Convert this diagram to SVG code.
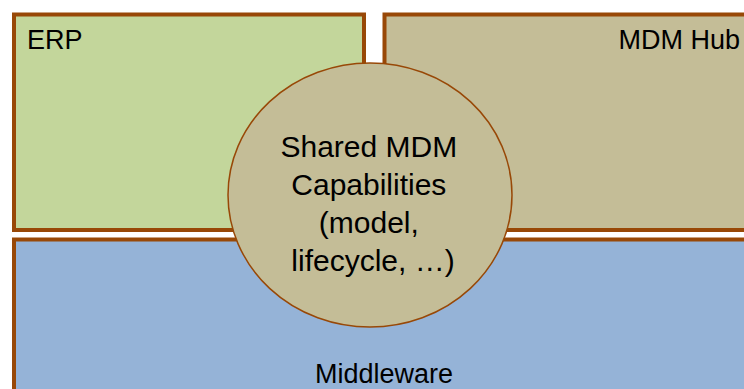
<svg xmlns="http://www.w3.org/2000/svg" width="744" height="389" viewBox="0 0 744 389">
<style>
.box{stroke:#984807;stroke-width:4}
.t{font-family:"Liberation Sans",Arial,sans-serif;font-size:27px;fill:#000}
</style>
<rect width="744" height="389" fill="#fff"/>
<g id="erp">
<rect class="box" x="14" y="14.5" width="350" height="215.5" fill="#C3D69B"/>
<text class="t" x="27" y="49">ERP</text>
</g>
<g id="mdmhub">
<rect class="box" x="384.5" y="14.5" width="380" height="215.5" fill="#C4BD97"/>
<text class="t" x="740" y="49" text-anchor="end">MDM Hub</text>
</g>
<g id="middleware">
<rect class="box" x="14" y="239.5" width="750" height="170" fill="#95B3D7"/>
<text class="t" x="384" y="383" text-anchor="middle">Middleware</text>
</g>
<g id="shared">
<ellipse cx="370" cy="195" rx="142" ry="132" fill="#C4BD97" stroke="#984807" stroke-width="1.5"/>
<text class="t" text-anchor="middle" style="font-size:30px">
<tspan x="373" y="157">Shared MDM</tspan>
<tspan x="373" y="195">Capabilities</tspan>
<tspan x="373" y="233">(model,</tspan>
<tspan x="373" y="271">lifecycle, …)</tspan>
</text>
</g>
<g id="connectors"/>
</svg>
